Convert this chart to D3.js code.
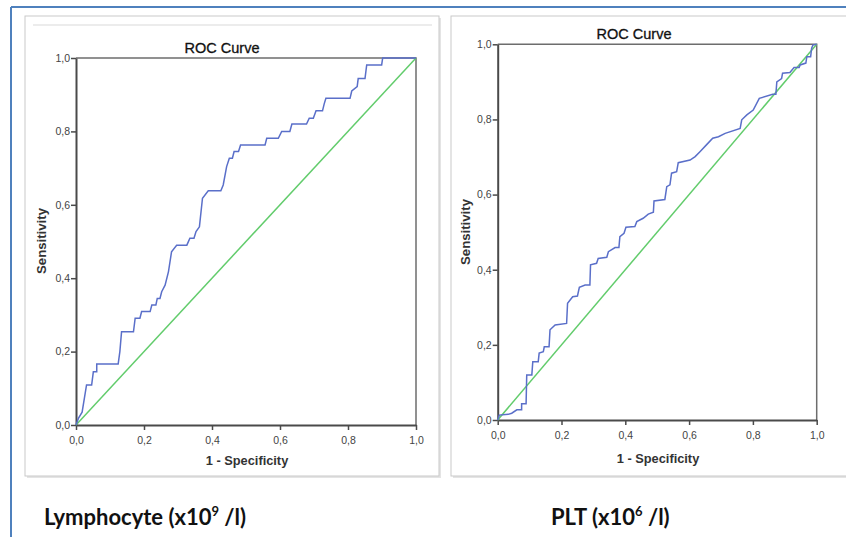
<!DOCTYPE html>
<html>
<head>
<meta charset="utf-8">
<script src="https://cdn.jsdelivr.net/npm/d3@7"></script>
<style>
  body { margin: 0; background: #fff; }
  svg { display: block; }
</style>
</head>
<body>
<div id="chart"></div>
<script>
// Data (1 - specificity, sensitivity)

const axisTicks = [0, 0.2, 0.4, 0.6, 0.8, 1.0]

const lymphFpr = [0, 0.007, 0.018, 0.031, 0.046, 0.051, 0.061, 0.061, 0.124, 0.129, 0.134, 0.169,
  0.174, 0.188, 0.193, 0.218, 0.223, 0.235, 0.239, 0.247, 0.252, 0.262, 0.272, 0.281, 0.296,
  0.326, 0.335, 0.347, 0.353, 0.363, 0.372, 0.389, 0.426, 0.433, 0.443, 0.451, 0.46, 0.465,
  0.478, 0.484, 0.556, 0.561, 0.595, 0.605, 0.629, 0.635, 0.678, 0.686, 0.698, 0.706, 0.725,
  0.73, 0.735, 0.806, 0.811, 0.827, 0.83, 0.85, 0.855, 0.899, 0.902, 1.0]
const lymphTpr = [0, 0.018, 0.035, 0.109, 0.109, 0.145, 0.145, 0.166, 0.166, 0.2, 0.254, 0.254,
  0.291, 0.291, 0.309, 0.309, 0.327, 0.327, 0.345, 0.345, 0.363, 0.381, 0.418, 0.472, 0.49,
  0.49, 0.509, 0.509, 0.527, 0.54, 0.618, 0.638, 0.638, 0.654, 0.704, 0.727, 0.727, 0.745,
  0.745, 0.763, 0.763, 0.781, 0.781, 0.8, 0.8, 0.82, 0.82, 0.836, 0.836, 0.856, 0.856,
  0.875, 0.89, 0.89, 0.91, 0.922, 0.944, 0.944, 0.981, 0.981, 1.0, 1.0]

const pltFpr = [0, 0.005, 0.033, 0.044, 0.06, 0.075, 0.075, 0.089, 0.091, 0.107, 0.11, 0.127,
  0.13, 0.143, 0.146, 0.161, 0.164, 0.18, 0.216, 0.219, 0.235, 0.25, 0.256, 0.274, 0.289,
  0.291, 0.31, 0.315, 0.342, 0.347, 0.368, 0.38, 0.383, 0.396, 0.402, 0.43, 0.436, 0.456,
  0.472, 0.488, 0.49, 0.524, 0.53, 0.54, 0.545, 0.561, 0.566, 0.603, 0.619, 0.634, 0.655,
  0.674, 0.692, 0.713, 0.76, 0.765, 0.781, 0.801, 0.82, 0.862, 0.872, 0.875, 0.89, 0.893,
  0.916, 0.929, 0.945, 0.948, 0.966, 0.969, 0.981, 0.984, 0.988, 1.0]
const pltTpr = [0, 0.013, 0.015, 0.018, 0.027, 0.027, 0.043, 0.043, 0.12, 0.12, 0.155, 0.155,
  0.178, 0.182, 0.195, 0.195, 0.24, 0.253, 0.257, 0.311, 0.328, 0.33, 0.353, 0.359, 0.359,
  0.413, 0.417, 0.43, 0.433, 0.448, 0.459, 0.459, 0.488, 0.497, 0.513, 0.515, 0.528, 0.537,
  0.548, 0.553, 0.583, 0.587, 0.621, 0.626, 0.657, 0.661, 0.685, 0.692, 0.701, 0.714, 0.733,
  0.75, 0.754, 0.763, 0.776, 0.799, 0.812, 0.825, 0.856, 0.867, 0.867, 0.9, 0.909, 0.923,
  0.925, 0.938, 0.938, 0.945, 0.95, 0.967, 0.967, 0.989, 0.998, 1.0]

const W = 846
const H = 537

const svg = d3
  .select('#chart')
  .append('svg')
  .attr('width', W)
  .attr('height', H)

// blue slide frame
svg.append('line')
  .attr('x1', 11).attr('x2', 11).attr('y1', 7).attr('y2', H)
  .attr('stroke', '#4f81bd').attr('stroke-width', 2)
svg.append('line')
  .attr('x1', 11).attr('x2', W).attr('y1', 7).attr('y2', 7)
  .attr('stroke', '#4f81bd').attr('stroke-width', 2)

// grey panel boxes with a soft shadow
function panel(x, y, w, h) {
  svg.append('rect')
    .attr('x', x + 2).attr('y', y + 2).attr('width', w).attr('height', h)
    .attr('fill', '#e4e4e4')
  svg.append('rect')
    .attr('x', x).attr('y', y).attr('width', w).attr('height', h)
    .attr('fill', '#fff')
    .attr('stroke', '#c9c9c9')
}
panel(25, 16, 414, 460)
panel(451, 16, 410, 460)

svg.append('line')
  .attr('x1', 33).attr('x2', 432).attr('y1', 25).attr('y2', 25)
  .attr('stroke', '#e6e6e6').attr('stroke-width', 1.5)

const commaFmt = d => d3.format('.1f')(d).replace('.', ',')

function drawRoc(opts, fpr, tpr) {
  const x = d3.scaleLinear().domain([0, 1]).range([opts.left, opts.right])
  const y = d3.scaleLinear().domain([0, 1]).range([opts.bottom, opts.top])

  const g = svg.append('g')

  // frame top + right
  g.append('path')
    .attr('d', `M${x(0)},${y(1)}H${x(1)}V${y(0)}`)
    .attr('fill', 'none')
    .attr('stroke', '#6d6d6d')
    .attr('stroke-width', 1.5)

  const xAxis = d3.axisBottom(x).tickValues(axisTicks).tickFormat(commaFmt).tickSize(5).tickSizeOuter(0)
  const yAxis = d3.axisLeft(y).tickValues(axisTicks).tickFormat(commaFmt).tickSize(5).tickSizeOuter(0)

  g.append('g')
    .attr('transform', `translate(0,${y(0)})`)
    .call(xAxis)
    .call(a => a.selectAll('text').attr('dy', '1.05em'))
  g.append('g')
    .attr('transform', `translate(${x(0)},0)`)
    .call(yAxis)
    .call(a => a.selectAll('text').attr('x', -6))

  g.selectAll('.domain').attr('stroke', '#4a4a4a').attr('stroke-width', 2)
  g.selectAll('.tick line').attr('stroke', '#4a4a4a').attr('stroke-width', 1.5)
  g.selectAll('.tick text')
    .attr('fill', '#444')
    .attr('font-family', 'Liberation Sans, Arial, sans-serif')
    .attr('font-size', 10.5)

  // reference diagonal
  g.append('line')
    .attr('x1', x(0)).attr('y1', y(0)).attr('x2', x(1)).attr('y2', y(1))
    .attr('stroke', '#62cc6c')
    .attr('stroke-width', 1.5)

  const points = fpr.map((d, i) => [d, tpr[i]])
  const line = d3.line().x(d => x(d[0])).y(d => y(d[1]))
  g.append('path')
    .datum(points)
    .attr('d', line)
    .attr('fill', 'none')
    .attr('stroke', '#5a6fc9')
    .attr('stroke-width', 1.5)

  g.append('text')
    .text('ROC Curve')
    .attr('x', opts.titleX)
    .attr('y', opts.titleY)
    .attr('text-anchor', 'middle')
    .attr('font-family', 'Liberation Sans, Arial, sans-serif')
    .attr('font-size', 14.5)
    .attr('fill', '#111')
    .attr('stroke', '#111')
    .attr('stroke-width', 0.3)

  g.append('text')
    .text('1 - Specificity')
    .attr('x', opts.xLabelX)
    .attr('y', opts.xLabelY)
    .attr('text-anchor', 'middle')
    .attr('font-family', 'Liberation Sans, Arial, sans-serif')
    .attr('font-weight', 'bold')
    .attr('font-size', 12.8)
    .attr('fill', '#333')

  g.append('text')
    .text('Sensitivity')
    .attr('transform', `translate(${opts.yLabelX},${opts.yLabelY}) rotate(-90)`)
    .attr('text-anchor', 'middle')
    .attr('font-family', 'Liberation Sans, Arial, sans-serif')
    .attr('font-weight', 'bold')
    .attr('font-size', 13.2)
    .attr('fill', '#333')

  const cap = svg.append('text')
    .attr('x', opts.capX)
    .attr('y', 525)
    .attr('font-family', 'Lato, Open Sans, sans-serif')
    .attr('font-weight', 'bold')
    .attr('font-size', 22)
    .attr('fill', '#111')
  cap.append('tspan').text(opts.capA)
  cap.append('tspan').text(opts.capSup).attr('font-size', 13).attr('dy', -9)
  cap.append('tspan').text(opts.capB).attr('dy', 9)
}

drawRoc({
  left: 76, right: 416, top: 58, bottom: 425,
  titleX: 222, titleY: 53,
  xLabelX: 247, xLabelY: 465,
  yLabelX: 46, yLabelY: 241,
  capX: 44, capA: 'Lymphocyte (x10', capSup: '9', capB: ' /l)'
}, lymphFpr, lymphTpr)

drawRoc({
  left: 497.7, right: 816.7, top: 44.3, bottom: 420,
  titleX: 634, titleY: 39,
  xLabelX: 658, xLabelY: 463,
  yLabelX: 470, yLabelY: 232,
  capX: 551, capA: 'PLT (x10', capSup: '6', capB: ' /l)'
}, pltFpr, pltTpr)
</script>
</body>
</html>
